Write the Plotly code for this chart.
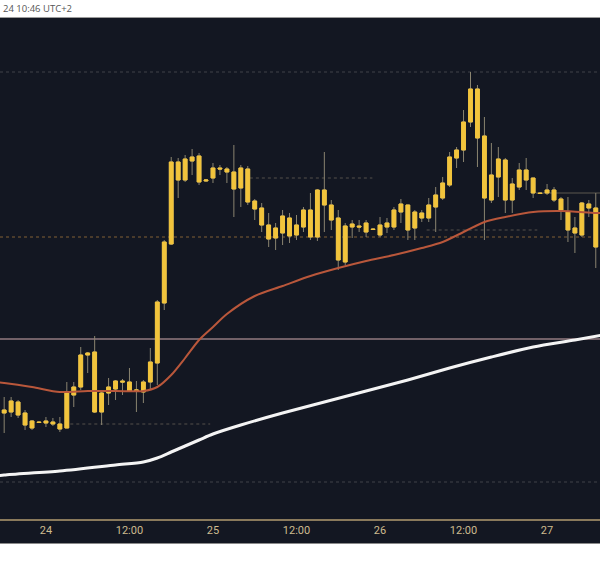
import datetime as dt
import plotly.graph_objects as go

# ---------------- data (hourly candles, 23rd 18:00 -> 27th 07:00) ----------------
start_time = dt.datetime(2024, 9, 23, 18, 0)
n_candles = 86
times = [start_time + dt.timedelta(hours=i) for i in range(n_candles)]

opens = [106, 107, 117, 106, 98, 97, 96, 97, 95, 91, 124, 132, 164, 167, 107, 126, 130, 138, 137, 128,
         127, 137, 156, 216, 275, 357, 339, 358, 363, 338, 341, 351, 350, 347, 331, 350, 318, 311, 294, 281,
         286, 301, 284, 292, 309, 282, 329, 314, 301, 257, 292, 293, 287, 290, 284, 292, 292, 307, 314, 291,
         306, 301, 312, 321, 334, 361, 369, 397, 430, 383, 319, 342, 359, 319, 332, 349, 341, 326, 326, 329,
         320, 307, 291, 284, 315, 311]
highs = [122, 122, 119, 109, 99, 98, 102, 101, 102, 137, 137, 172, 167, 183, 129, 141, 139, 140, 151, 138,
         139, 171, 219, 279, 362, 361, 364, 370, 366, 340, 356, 354, 352, 374, 354, 353, 320, 316, 306, 296,
         309, 306, 304, 312, 326, 330, 367, 319, 309, 296, 299, 299, 299, 291, 302, 301, 312, 320, 314, 309,
         309, 321, 332, 342, 367, 372, 409, 447, 434, 402, 376, 372, 361, 341, 356, 361, 341, 327, 335, 332,
         322, 322, 302, 317, 319, 326]
lows = [86, 102, 101, 89, 89, 96, 92, 93, 87, 91, 112, 129, 146, 106, 94, 114, 119, 124, 128, 107,
        116, 129, 134, 209, 274, 321, 337, 344, 334, 337, 336, 344, 336, 302, 312, 314, 299, 287, 272, 269,
        274, 276, 279, 287, 279, 278, 287, 289, 249, 254, 281, 287, 282, 289, 282, 286, 289, 296, 279, 279,
        297, 297, 287, 319, 332, 351, 357, 392, 352, 279, 316, 322, 306, 306, 329, 329, 321, 325, 324, 317,
        299, 277, 266, 282, 302, 251]
closes = [109, 118, 104, 94, 91, 96.5, 98, 95, 90, 126, 132, 164, 166, 107, 126, 132, 138, 137, 128, 129,
          137, 157, 217, 277, 357, 339, 360, 362, 337, 339, 351, 350, 347, 330, 351, 317, 310, 294, 280, 291,
          303, 283, 294, 309, 282, 329, 314, 299, 259, 293, 295, 292, 296, 289.5, 294, 296, 309, 315, 289, 307,
          301, 314, 324, 336, 362, 369, 397, 430, 381, 321, 344, 360, 319, 335, 349, 339, 326, 325.5, 329, 319,
          309, 289, 286, 316, 311, 272]

# moving-average readings (hour index from first candle, value)
ma_fast_idx = [-1, 0, 4, 8, 12, 16, 20, 22, 24, 26, 28, 30, 32, 36, 40, 44, 48, 52, 56, 60, 63, 66, 69, 72, 76, 80, 85, 86]
ma_fast_val = [137, 136, 132, 127, 128, 128, 128, 132, 144, 161, 179, 192, 205, 223, 233, 243, 251, 258, 264, 271,
               277, 287, 297, 302, 307, 308, 306, 306]
ma_slow_idx = [-1, 0, 8, 16, 20, 22, 24, 26, 28, 30, 34, 40, 46, 52, 58, 64, 70, 76, 82, 86]
ma_slow_val = [43, 44, 48, 54, 57, 61, 67, 73, 79, 85, 94, 106, 117, 128, 139, 151, 162, 172, 179, 184]

# horizontal price levels: (price, start hour idx or None, end hour idx or None, colour, dash, width)
levels = [
    (447, None, None, "rgba(120,120,120,0.45)", "dot", 1),
    (341, 35.3, 52.9, "rgba(140,130,110,0.55)", "dot", 1),
    (326, 76.4, None, "rgba(140,130,110,0.6)", "solid", 1),
    (289, 60.7, 76.6, "rgba(140,130,110,0.55)", "dot", 1),
    (282, None, None, "rgba(170,120,60,0.75)", "dot", 1),
    (180, None, None, "rgba(170,140,145,0.85)", "solid", 1.5),
    (95, 9.5, 29.6, "rgba(140,130,110,0.55)", "dot", 1),
    (37, None, None, "rgba(120,120,120,0.45)", "dot", 1),
]

tick_times = [dt.datetime(2024, 9, 24, 0), dt.datetime(2024, 9, 24, 12), dt.datetime(2024, 9, 25, 0),
              dt.datetime(2024, 9, 25, 12), dt.datetime(2024, 9, 26, 0), dt.datetime(2024, 9, 26, 12),
              dt.datetime(2024, 9, 27, 0)]
tick_text = ["24", "12:00", "25", "12:00", "26", "12:00", "27"]

header_text = "24 10:46 UTC+2"

# ---------------- figure ----------------
BG = "#131722"
GOLD = "#f2c43c"
WICK = "#8a8470"

def hour_to_time(h):
    return start_time + dt.timedelta(hours=h)

fig = go.Figure()

# wicks (full range)
fig.add_trace(go.Candlestick(
    x=times, open=opens, high=highs, low=lows, close=closes,
    increasing=dict(line=dict(color=WICK, width=1), fillcolor=GOLD),
    decreasing=dict(line=dict(color=WICK, width=1), fillcolor=GOLD),
    showlegend=False, hoverinfo="skip", whiskerwidth=0,
))
# bodies
body_hi = [max(o, c) for o, c in zip(opens, closes)]
body_lo = [min(o, c) for o, c in zip(opens, closes)]
fig.add_trace(go.Candlestick(
    x=times, open=opens, high=body_hi, low=body_lo, close=closes,
    increasing=dict(line=dict(color=GOLD, width=1), fillcolor=GOLD),
    decreasing=dict(line=dict(color=GOLD, width=1), fillcolor=GOLD),
    showlegend=False, hoverinfo="skip", whiskerwidth=0,
))

fig.add_trace(go.Scatter(
    x=[hour_to_time(h) for h in ma_fast_idx], y=ma_fast_val, mode="lines",
    line=dict(color="#b9573b", width=2, shape="spline", smoothing=0.8),
    showlegend=False, hoverinfo="skip",
))
fig.add_trace(go.Scatter(
    x=[hour_to_time(h) for h in ma_slow_idx], y=ma_slow_val, mode="lines",
    line=dict(color="#f4f4f4", width=3, shape="spline", smoothing=0.8),
    showlegend=False, hoverinfo="skip",
))

shapes = []
# dark strip under the axis (label band)
shapes.append(dict(type="rect", xref="paper", yref="paper", x0=0, x1=1, y0=-24 / 501, y1=0,
                   fillcolor=BG, line=dict(width=0), layer="below"))
shapes.append(dict(type="line", xref="paper", yref="paper", x0=0, x1=1, y0=-24.5 / 501, y1=-24.5 / 501,
                   line=dict(color="#8a8a8a", width=1)))
shapes.append(dict(type="line", xref="paper", yref="paper", x0=0, x1=1, y0=1.001, y1=1.001,
                   line=dict(color="#9a9a9a", width=1)))
for price, h0, h1, col, dash, w in levels:
    if h0 is None and h1 is None:
        shapes.append(dict(type="line", xref="paper", yref="y", x0=0, x1=1, y0=price, y1=price,
                           line=dict(color=col, width=w, dash=dash), layer="below"))
    else:
        x0 = hour_to_time(h0) if h0 is not None else hour_to_time(-2)
        x1 = hour_to_time(h1) if h1 is not None else hour_to_time(90)
        shapes.append(dict(type="line", xref="x", yref="y", x0=x0, x1=x1, y0=price, y1=price,
                           line=dict(color=col, width=w, dash=dash), layer="below"))

x_start = dt.datetime(2024, 9, 23, 17, 24)
x_end = x_start + dt.timedelta(hours=600 / 6.96)

fig.update_layout(
    width=600, height=566,
    margin=dict(l=0, r=0, t=18, b=47, pad=0),
    paper_bgcolor="white", plot_bgcolor=BG,
    shapes=shapes,
    boxmode="overlay", boxgap=0.22,
    xaxis=dict(type="date", range=[x_start, x_end], showgrid=False, zeroline=False,
               tickmode="array", tickvals=tick_times, ticktext=tick_text,
               tickfont=dict(family="Roboto", size=11, color="#cdbb8f"),
               showline=True, linecolor="#8a7a5c", linewidth=1.5, ticks="",
               rangeslider=dict(visible=False), fixedrange=True),
    yaxis=dict(range=[0, 501], visible=False, showgrid=False, zeroline=False, fixedrange=True),
    annotations=[dict(text=header_text, xref="paper", yref="paper", x=1 / 600, y=1 + 9 / 501,
                      xanchor="left", yanchor="middle", showarrow=False,
                      font=dict(family="Open Sans", size=9.5, color="#555555"))],
    showlegend=False,
)

fig.write_html("out.html", config={"displayModeBar": False, "staticPlot": True},
               post_script="document.body.style.margin='0';document.body.style.padding='0';"
                           "document.documentElement.style.overflow='hidden';")
